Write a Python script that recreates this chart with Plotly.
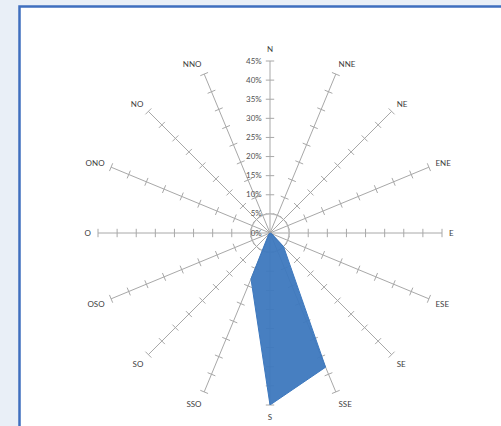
import plotly.graph_objects as go

# ---- data ----
directions = ["N", "NNE", "NE", "ENE", "E", "ESE", "SE", "SSE",
              "S", "SSO", "SO", "OSO", "O", "ONO", "NO", "NNO"]
frequency = [0, 0, 0, 0, 0, 0.5, 5, 38, 45, 13, 0.5, 0, 0, 0, 0, 0]
radial_ticks = [0, 5, 10, 15, 20, 25, 30, 35, 40, 45]
radial_labels = [f"{v}%" for v in radial_ticks]

W, H = 501, 426
cx, cy, R = 270, 233, 172

fig = go.Figure()

# gridline polygon at 5%
fig.add_trace(go.Scatterpolar(
    r=[radial_ticks[1]] * (len(directions) + 1),
    theta=directions + directions[:1],
    mode="lines", line=dict(color="#d4d4d4", width=1),
    hoverinfo="skip", showlegend=False))

# cross tick marks on every spoke
tr, tt, ta = [], [], []
for i, d in enumerate(directions):
    for t in radial_ticks[1:]:
        tr.append(t)
        tt.append(d)
        ta.append(i * 360 / len(directions))
fig.add_trace(go.Scatterpolar(
    r=tr, theta=tt, mode="markers",
    marker=dict(symbol="line-ew", size=6, angle=ta,
                line=dict(color="#a8a8a8", width=1)),
    hoverinfo="skip", showlegend=False))

# data polygon
fig.add_trace(go.Scatterpolar(
    r=frequency + frequency[:1], theta=directions + directions[:1],
    mode="lines", fill="toself", fillcolor="rgba(61,120,190,0.95)",
    line=dict(color="rgba(61,120,190,1)", width=1),
    showlegend=False))

fig.update_layout(
    width=W, height=H,
    margin=dict(l=0, r=0, t=0, b=0),
    paper_bgcolor="#e9eff7",
    plot_bgcolor="white",
    font=dict(family="Lato, Open Sans, sans-serif", size=8, color="#404040"),
    shapes=[dict(type="rect", xref="paper", yref="paper",
                 x0=19.5 / W, x1=1.05, y0=-0.05, y1=1 - 6.5 / H,
                 fillcolor="white", line=dict(color="#3f6fbf", width=2.5),
                 layer="below")],
    polar=dict(
        domain=dict(x=[(cx - R) / W, (cx + R) / W],
                    y=[(H - cy - R) / H, (H - cy + R) / H]),
        bgcolor="rgba(0,0,0,0)",
        angularaxis=dict(direction="clockwise", rotation=90,
                         categoryorder="array", categoryarray=directions,
                         showline=False, showgrid=True,
                         gridcolor="#a8a8a8", gridwidth=1,
                         ticks="outside", ticklen=5,
                         tickcolor="rgba(0,0,0,0)",
                         tickfont=dict(size=8, color="#404040")),
        radialaxis=dict(range=[0, 45], angle=90, side="counterclockwise",
                        tickmode="array", tickvals=radial_ticks,
                        ticktext=radial_labels,
                        showgrid=False, showline=False,
                        ticks="outside", ticklen=5,
                        tickcolor="rgba(0,0,0,0)",
                        tickfont=dict(size=8, color="#505050"),
                        tickangle=90),
    ),
)

fig.write_html("out.html", config={"displayModeBar": False},
               post_script="document.body.style.margin='0';")
